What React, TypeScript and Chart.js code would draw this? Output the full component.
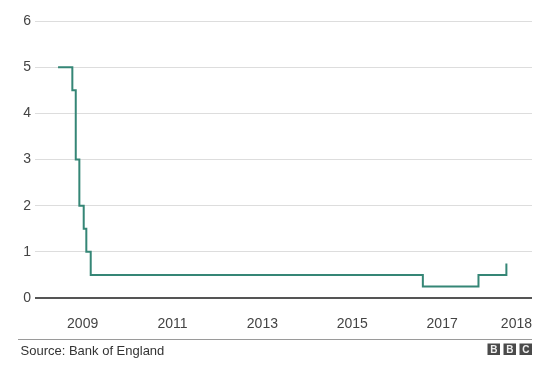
import React, { useEffect, useRef } from "react";
import { Chart, registerables } from "chart.js";

Chart.register(...registerables);

// Bank of England base rate (%), dated change points (decimal years)
const changeDates = [2008.453, 2008.771, 2008.847, 2008.927, 2009.024, 2009.082, 2009.18, 2016.571, 2017.809, 2018.43];
const rates = [5, 4.5, 3, 2, 1.5, 1, 0.5, 0.25, 0.5, 0.75];

const xTickValues = [2009, 2011, 2013, 2015, 2017, 2019];
const xTickLabels = ["2009", "2011", "2013", "2015", "2017", "2018"];
const yTickValues = [0, 1, 2, 3, 4, 5, 6];

const X_MIN = 2007.94;
const X_MAX = 2019.0;
const FONT = "'Liberation Sans', Arial, Helvetica, sans-serif";

const decorPlugin = {
  id: "decor",
  afterDraw(chart: any) {
    const ctx = chart.ctx as CanvasRenderingContext2D;
    const xs = chart.scales.x;
    const area = chart.chartArea;
    ctx.save();
    // x tick labels
    ctx.font = `14px ${FONT}`;
    ctx.fillStyle = "#444";
    ctx.textBaseline = "middle";
    xTickValues.forEach((v, i) => {
      const last = i === xTickValues.length - 1;
      ctx.textAlign = last ? "right" : "center";
      ctx.fillText(xTickLabels[i], xs.getPixelForValue(v), 324.5);
    });
    // separator line
    ctx.strokeStyle = "#9a9a9a";
    ctx.lineWidth = 1;
    ctx.beginPath();
    ctx.moveTo(18, 339.5);
    ctx.lineTo(area.right, 339.5);
    ctx.stroke();
    // source
    ctx.font = `13px ${FONT}`;
    ctx.fillStyle = "#333";
    ctx.textAlign = "left";
    ctx.textBaseline = "alphabetic";
    ctx.fillText("Source: Bank of England", 20.5, 355);
    // BBC logo
    const letters = ["B", "B", "C"];
    const bw = 12.5, gap = 3.5, top = 343.5, bh = 11.5;
    const startX = area.right - (3 * bw + 2 * gap);
    letters.forEach((l, i) => {
      const bx = startX + i * (bw + gap);
      ctx.fillStyle = "#4a4a4a";
      ctx.fillRect(bx, top, bw, bh);
      ctx.fillStyle = "#f0f0f0";
      ctx.font = `bold 10px ${FONT}`;
      ctx.textAlign = "center";
      ctx.textBaseline = "middle";
      ctx.fillText(l, bx + bw / 2, top + bh / 2 + 0.5);
    });
    ctx.restore();
  },
};

export default function App() {
  const ref = useRef<HTMLCanvasElement>(null);
  useEffect(() => {
    if (!ref.current) return;
    const data = changeDates.map((d, i) => ({ x: d, y: rates[i] }));
    const chart = new Chart(ref.current, {
      type: "line",
      data: {
        datasets: [
          {
            data,
            borderColor: "#358676",
            borderWidth: 2,
            pointRadius: 0,
            stepped: "before",
            fill: false,
          },
        ],
      },
      options: {
        responsive: false,
        animation: false,
        layout: { padding: { top: 21, right: 11, bottom: 68, left: 0 } },
        plugins: { legend: { display: false }, tooltip: { enabled: false } },
        scales: {
          x: {
            type: "linear",
            min: X_MIN,
            max: X_MAX,
            display: false,
          },
          y: {
            min: 0,
            max: 6,
            afterFit(scale: any) {
              scale.width = 35;
            },
            afterBuildTicks(scale: any) {
              scale.ticks = yTickValues.map((v) => ({ value: v }));
            },
            border: { display: false },
            grid: {
              drawTicks: false,
              color: (c: any) => (c.tick && c.tick.value === 0 ? "#555555" : "#dddddd"),
              lineWidth: (c: any) => (c.tick && c.tick.value === 0 ? 2 : 1),
            },
            ticks: {
              padding: 4,
              color: "#444",
              font: { family: FONT, size: 14 },
              callback: (v: any) => String(v),
            },
          },
        },
      },
      plugins: [decorPlugin],
    });
    return () => chart.destroy();
  }, []);
  return (
    <div style={{ position: "absolute", left: 0, top: 0, width: 543, height: 366, background: "#fff" }}>
      <canvas ref={ref} width={543} height={366} />
    </div>
  );
}
